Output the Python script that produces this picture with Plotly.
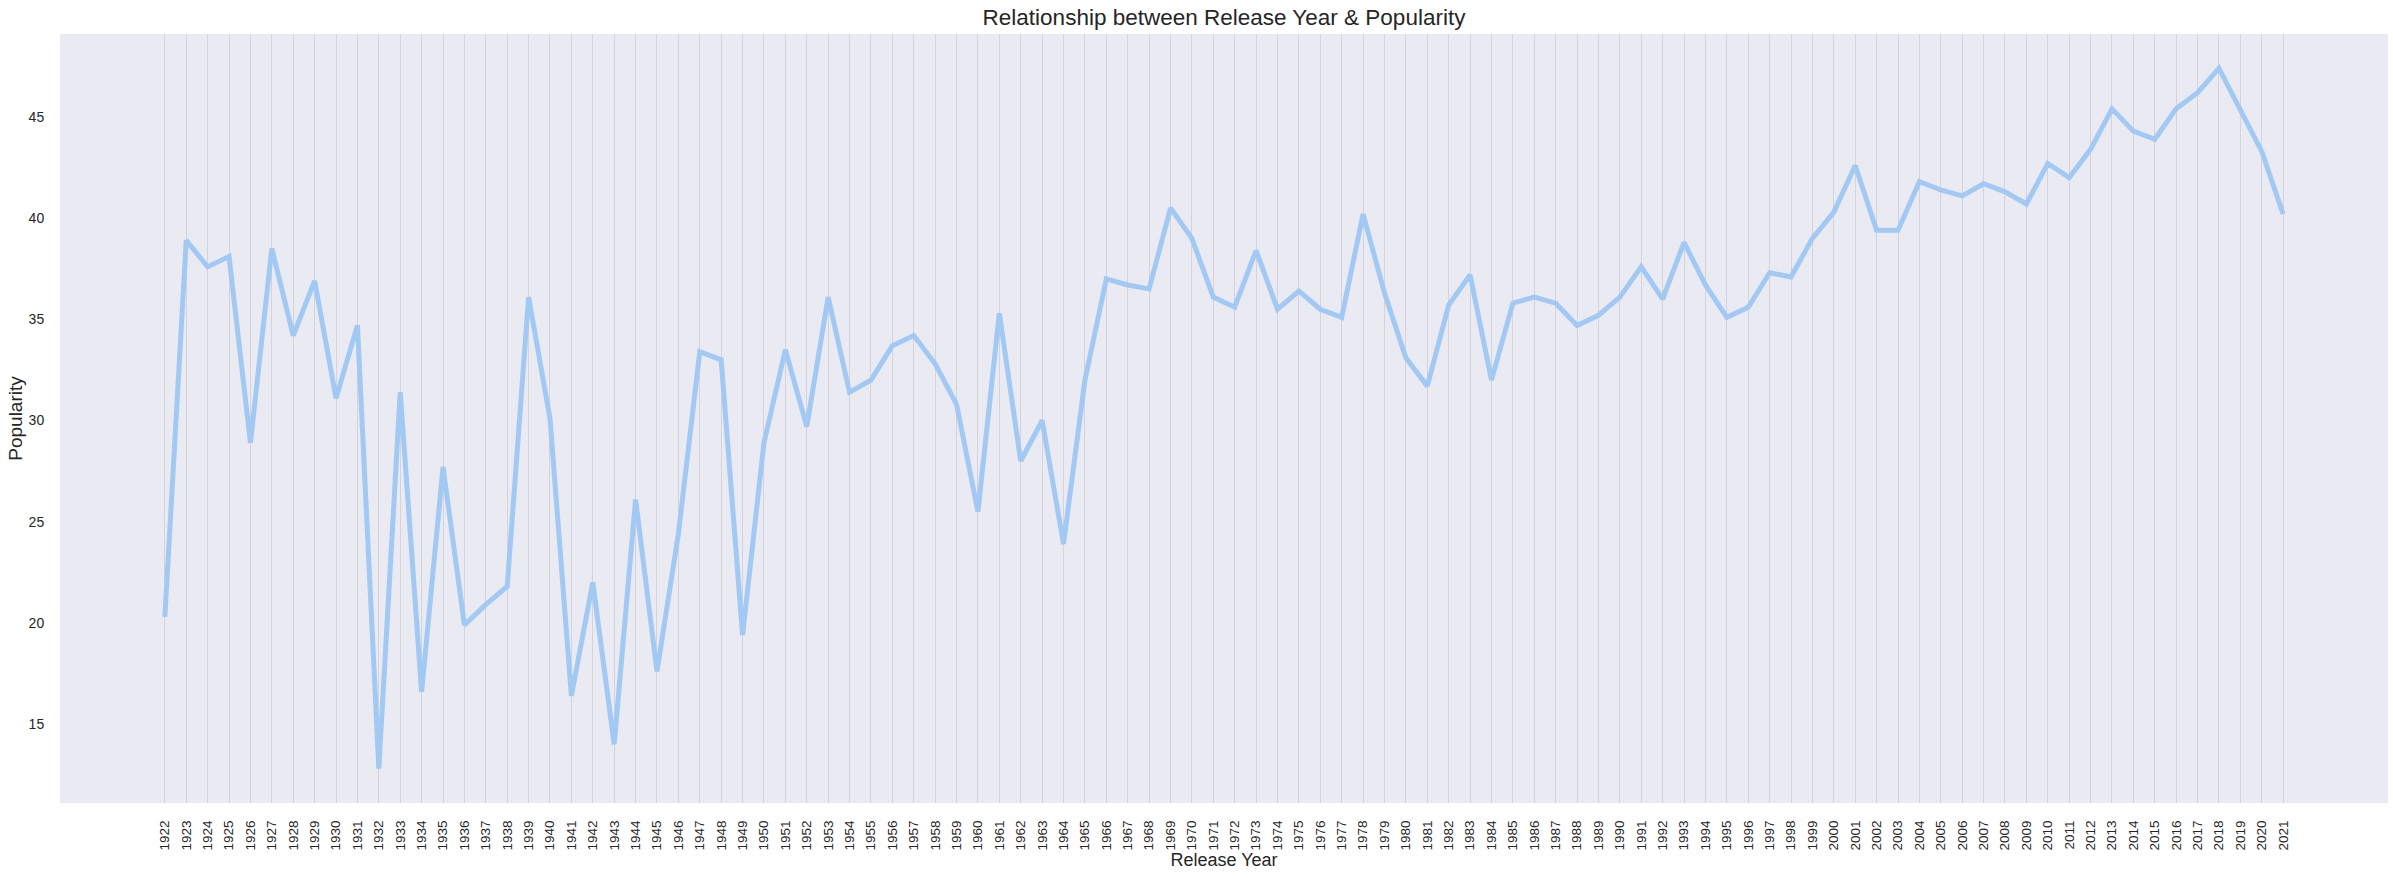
import plotly.express as px
import pandas as pd

# release years (x categories) and mean popularity per year
years = list(range(1922, 2022))
popularity = [
    20.3, 38.9, 37.6, 38.1, 28.9, 38.5, 34.2, 36.9, 31.1, 34.7,
    12.8, 31.4, 16.6, 27.7, 19.9, 20.9, 21.8, 36.1, 30.1, 16.4,
    22.0, 14.0, 26.1, 17.6, 24.4, 33.4, 33.0, 19.4, 28.9, 33.5,
    29.7, 36.1, 31.4, 32.0, 33.7, 34.2, 32.8, 30.8, 25.5, 35.3,
    28.0, 30.0, 23.9, 32.0, 37.0, 36.7, 36.5, 40.5, 39.0, 36.1,
    35.6, 38.4, 35.5, 36.4, 35.5, 35.1, 40.2, 36.3, 33.1, 31.7,
    35.7, 37.2, 32.0, 35.8, 36.1, 35.8, 34.7, 35.2, 36.1, 37.6,
    36.0, 38.8, 36.7, 35.1, 35.6, 37.3, 37.1, 39.0, 40.3, 42.6,
    39.4, 39.4, 41.8, 41.4, 41.1, 41.7, 41.3, 40.7, 42.7, 42.0,
    43.4, 45.4, 44.3, 43.9, 45.4, 46.2, 47.4, 45.3, 43.3, 40.2,
]
year_labels = [str(y) for y in years]
pop_ticks = [15, 20, 25, 30, 35, 40, 45]

df = pd.DataFrame({"Release Year": years, "Popularity": popularity})

fig = px.line(df, x="Release Year", y="Popularity")
fig.update_traces(line=dict(color="#a1c9f4", width=5))

font_name = "Liberation Sans, Arial, sans-serif"
fig.update_layout(
    width=2393,
    height=878,
    margin=dict(l=60, r=5, t=34, b=75, autoexpand=False),
    paper_bgcolor="white",
    plot_bgcolor="#eaeaf2",
    font=dict(family=font_name, color="#262626"),
    showlegend=False,
    title=dict(
        text="Relationship between Release Year & Popularity",
        x=0.5, xref="paper", xanchor="center",
        y=1 - 17 / 878, yref="container", yanchor="middle",
        font=dict(size=22.5, color="#262626"),
    ),
)
fig.update_xaxes(
    title=dict(text="Release Year", font=dict(size=18), standoff=3),
    automargin=False,
    tickmode="array",
    tickvals=years,
    ticktext=year_labels,
    tickangle=-90,
    tickfont=dict(size=13.5, color="#262626"),
    range=[1917.1, 2025.9],
    showgrid=True,
    gridcolor="#d3d3d9",
    gridwidth=1,
    zeroline=False,
    showline=False,
    ticks="outside",
    ticklen=11,
    tickcolor="rgba(0,0,0,0)",
)
fig.update_yaxes(
    title=dict(text="Popularity", font=dict(size=19), standoff=0),
    automargin=False,
    tickmode="array",
    tickvals=pop_ticks,
    tickfont=dict(size=14, color="#262626"),
    range=[11.1, 49.1],
    showgrid=False,
    zeroline=False,
    showline=False,
    ticks="outside",
    ticklen=12,
    tickcolor="rgba(0,0,0,0)",
)

# the page's default body margin would shift the figure by 8px
fig.write_html(
    "out.html",
    config={"displayModeBar": False},
    post_script="document.body.style.margin='0';",
)
